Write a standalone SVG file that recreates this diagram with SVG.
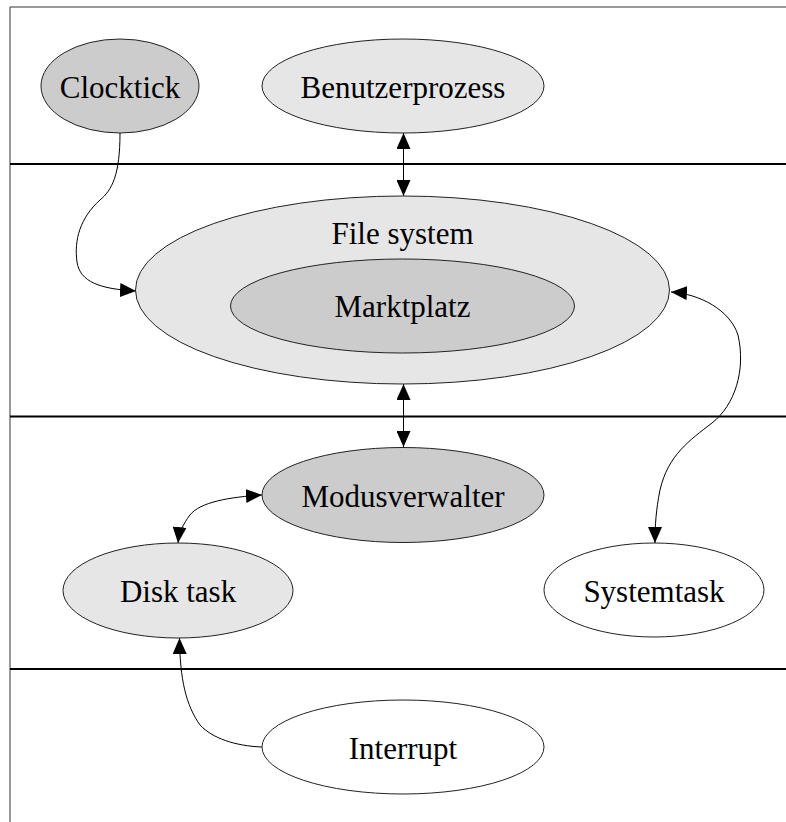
<svg xmlns="http://www.w3.org/2000/svg" width="786" height="822" viewBox="0 0 786 822">
<defs>
<style>
.node{stroke:#222;stroke-width:1}
.dark{fill:#cccccc}
.light{fill:#e6e6e6}
.white{fill:#ffffff}
.lbl{font-family:"Liberation Serif","Times New Roman",serif;font-size:31px;fill:#000;text-anchor:middle}
.edge{fill:none;stroke:#000;stroke-width:1}
.sep{stroke:#000;stroke-width:2}
</style>
<marker id="ah" viewBox="0 0 16 14" refX="16" refY="7" markerWidth="16" markerHeight="14" markerUnits="userSpaceOnUse" orient="auto-start-reverse">
<path d="M0,0 L16,7 L0,14 Z" fill="#000"/>
</marker>
</defs>
<rect width="786" height="822" fill="#fff"/>
<g id="frame">
<path d="M10,822 V7 H786" fill="none" stroke="#333" stroke-width="1"/>
<line class="sep" x1="10" y1="164" x2="786" y2="164"/>
<line class="sep" x1="10" y1="416.5" x2="786" y2="416.5"/>
<line class="sep" x1="10" y1="669" x2="786" y2="669"/>
</g>
<g id="connectors">
<path class="edge" d="M403.5,133 V196" marker-start="url(#ah)" marker-end="url(#ah)"/>
<path class="edge" d="M403.5,384 V447" marker-start="url(#ah)" marker-end="url(#ah)"/>
<path class="edge" d="M120,133 C120,175 112,190 100,200 C80,218 74,240 77,262 C80,282 100,289 136,291" marker-end="url(#ah)"/>
<path class="edge" d="M671,292 C700,294 730,310 738,335 C746,370 735,405 712,423 C690,440 668,455 660,490 C656,510 655,525 655,543" marker-start="url(#ah)" marker-end="url(#ah)"/>
<path class="edge" d="M262,495 C230,497 200,502 190,515 C183,524 179,533 178,543" marker-start="url(#ah)" marker-end="url(#ah)"/>
<path class="edge" d="M262,747 C235,746 212,738 200,725 C186,705 180,680 179.5,638" marker-end="url(#ah)"/>
</g>
<g id="clocktick">
<ellipse class="node dark" cx="120" cy="86" rx="79" ry="47"/>
<text class="lbl" x="120" y="98">Clocktick</text>
</g>
<g id="benutzerprozess">
<ellipse class="node light" cx="403" cy="86" rx="141" ry="47"/>
<text class="lbl" x="403" y="98">Benutzerprozess</text>
</g>
<g id="filesystem">
<ellipse class="node light" cx="402.5" cy="290" rx="267" ry="94"/>
<text class="lbl" x="402.5" y="244">File system</text>
</g>
<g id="marktplatz">
<ellipse class="node dark" cx="402.5" cy="306" rx="172" ry="47"/>
<text class="lbl" x="402.5" y="317">Marktplatz</text>
</g>
<g id="modusverwalter">
<ellipse class="node dark" cx="403" cy="495" rx="141" ry="47.5"/>
<text class="lbl" x="403" y="507">Modusverwalter</text>
</g>
<g id="disktask">
<ellipse class="node light" cx="178" cy="590.5" rx="115" ry="47.5"/>
<text class="lbl" x="178" y="602">Disk task</text>
</g>
<g id="systemtask">
<ellipse class="node white" cx="654" cy="590" rx="110" ry="47"/>
<text class="lbl" x="654" y="602">Systemtask</text>
</g>
<g id="interrupt">
<ellipse class="node white" cx="403" cy="747" rx="141" ry="47"/>
<text class="lbl" x="403" y="759">Interrupt</text>
</g>
</svg>
